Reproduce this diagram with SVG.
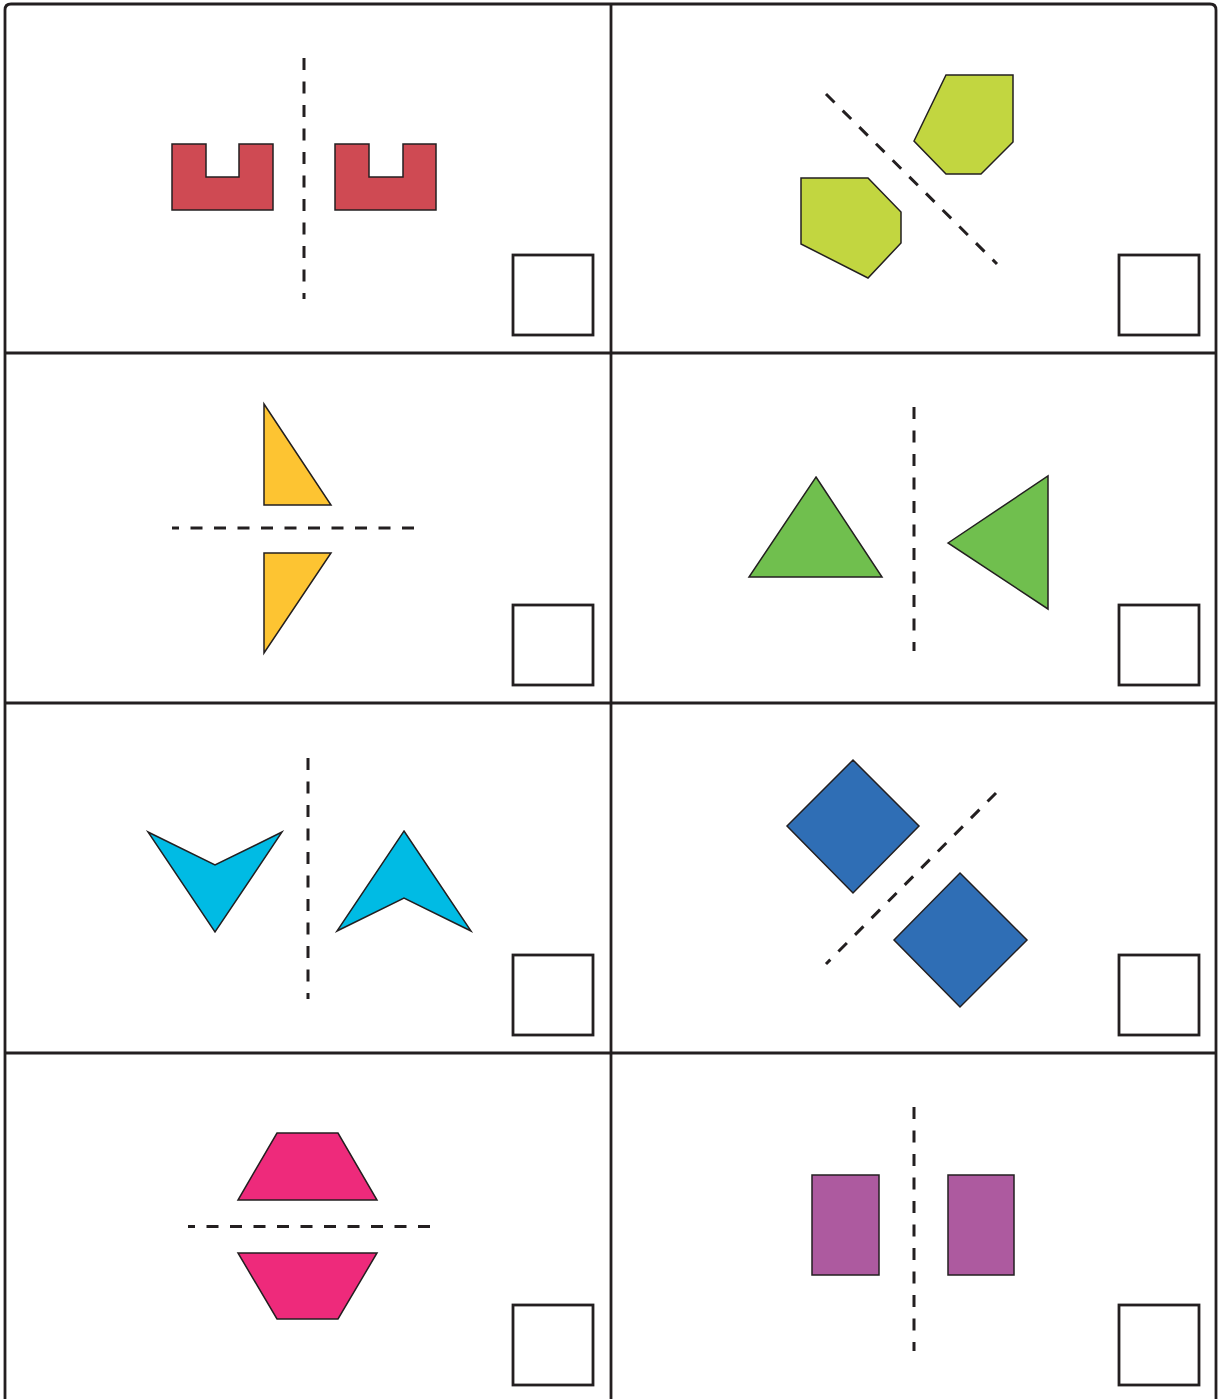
<svg xmlns="http://www.w3.org/2000/svg" width="1221" height="1399" viewBox="0 0 1221 1399">
<style>
.frame{fill:none;stroke:#231f20;stroke-width:2.8}
.box{fill:#fff;stroke:#231f20;stroke-width:2.8}
.axis{fill:none;stroke:#231f20;stroke-width:3;stroke-dasharray:12 11.5}
.shape{stroke:#231f20;stroke-width:1.5;stroke-linejoin:miter}
</style>
<rect width="1221" height="1399" fill="#fff"/>
<g id="grid">
<path class="frame" d="M5,1405 V10 Q5,4 11,4 H1210 Q1216,4 1216,10 V1405"/>
<line class="frame" x1="611" y1="4" x2="611" y2="1405"/>
<line class="frame" x1="5" y1="353" x2="1216" y2="353"/>
<line class="frame" x1="5" y1="703" x2="1216" y2="703"/>
<line class="frame" x1="5" y1="1053" x2="1216" y2="1053"/>
</g>
<g id="cell1">
<path class="shape" fill="#cf4a53" d="M172,144 H206 V177 H239 V144 H273 V210 H172 Z"/>
<path class="shape" fill="#cf4a53" d="M335,144 H369 V177 H403 V144 H436 V210 H335 Z"/>
<line class="axis" x1="304" y1="58" x2="304" y2="299"/>
<rect class="box" x="513" y="255" width="80" height="80"/>
</g>
<g id="cell2">
<polygon class="shape" fill="#c2d640" points="946,75 1013,75 1013,142 981,174 946,174 914,141"/>
<polygon class="shape" fill="#c2d640" points="801,178 868,178 901,212 901,243 868,278 801,244"/>
<line class="axis" x1="826" y1="94" x2="997" y2="264"/>
<rect class="box" x="1119" y="255" width="80" height="80"/>
</g>
<g id="cell3">
<polygon class="shape" fill="#fdc432" points="264,404 331,505 264,505"/>
<polygon class="shape" fill="#fdc432" points="264,553 331,553 264,653"/>
<line class="axis" x1="414" y1="528" x2="172" y2="528"/>
<rect class="box" x="513" y="605" width="80" height="80"/>
</g>
<g id="cell4">
<polygon class="shape" fill="#70bf4e" points="816,477 882,577 749,577"/>
<polygon class="shape" fill="#70bf4e" points="948,543 1048,476 1048,609"/>
<line class="axis" x1="914" y1="407" x2="914" y2="651"/>
<rect class="box" x="1119" y="605" width="80" height="80"/>
</g>
<g id="cell5">
<polygon class="shape" fill="#00bbe4" points="148,832 215,865 282,832 215,932"/>
<polygon class="shape" fill="#00bbe4" points="404,831 471,931 404,898 337,931"/>
<line class="axis" x1="308" y1="758" x2="308" y2="999"/>
<rect class="box" x="513" y="955" width="80" height="80"/>
</g>
<g id="cell6">
<polygon class="shape" fill="#2f6eb5" points="853,760 919,826 853,893 787,826"/>
<polygon class="shape" fill="#2f6eb5" points="960,873 1027,940 960,1007 894,940"/>
<line class="axis" x1="996" y1="793" x2="826" y2="964"/>
<rect class="box" x="1119" y="955" width="80" height="80"/>
</g>
<g id="cell7">
<polygon class="shape" fill="#ee2a7b" points="277,1133 338,1133 377,1200 238,1200"/>
<polygon class="shape" fill="#ee2a7b" points="238,1253 377,1253 338,1319 277,1319"/>
<line class="axis" x1="430" y1="1226.5" x2="188" y2="1226.5"/>
<rect class="box" x="513" y="1305" width="80" height="80"/>
</g>
<g id="cell8">
<rect class="shape" fill="#ad5a9f" x="812" y="1175" width="67" height="100"/>
<rect class="shape" fill="#ad5a9f" x="948" y="1175" width="66" height="100"/>
<line class="axis" x1="914" y1="1107" x2="914" y2="1351"/>
<rect class="box" x="1119" y="1305" width="80" height="80"/>
</g>
</svg>
